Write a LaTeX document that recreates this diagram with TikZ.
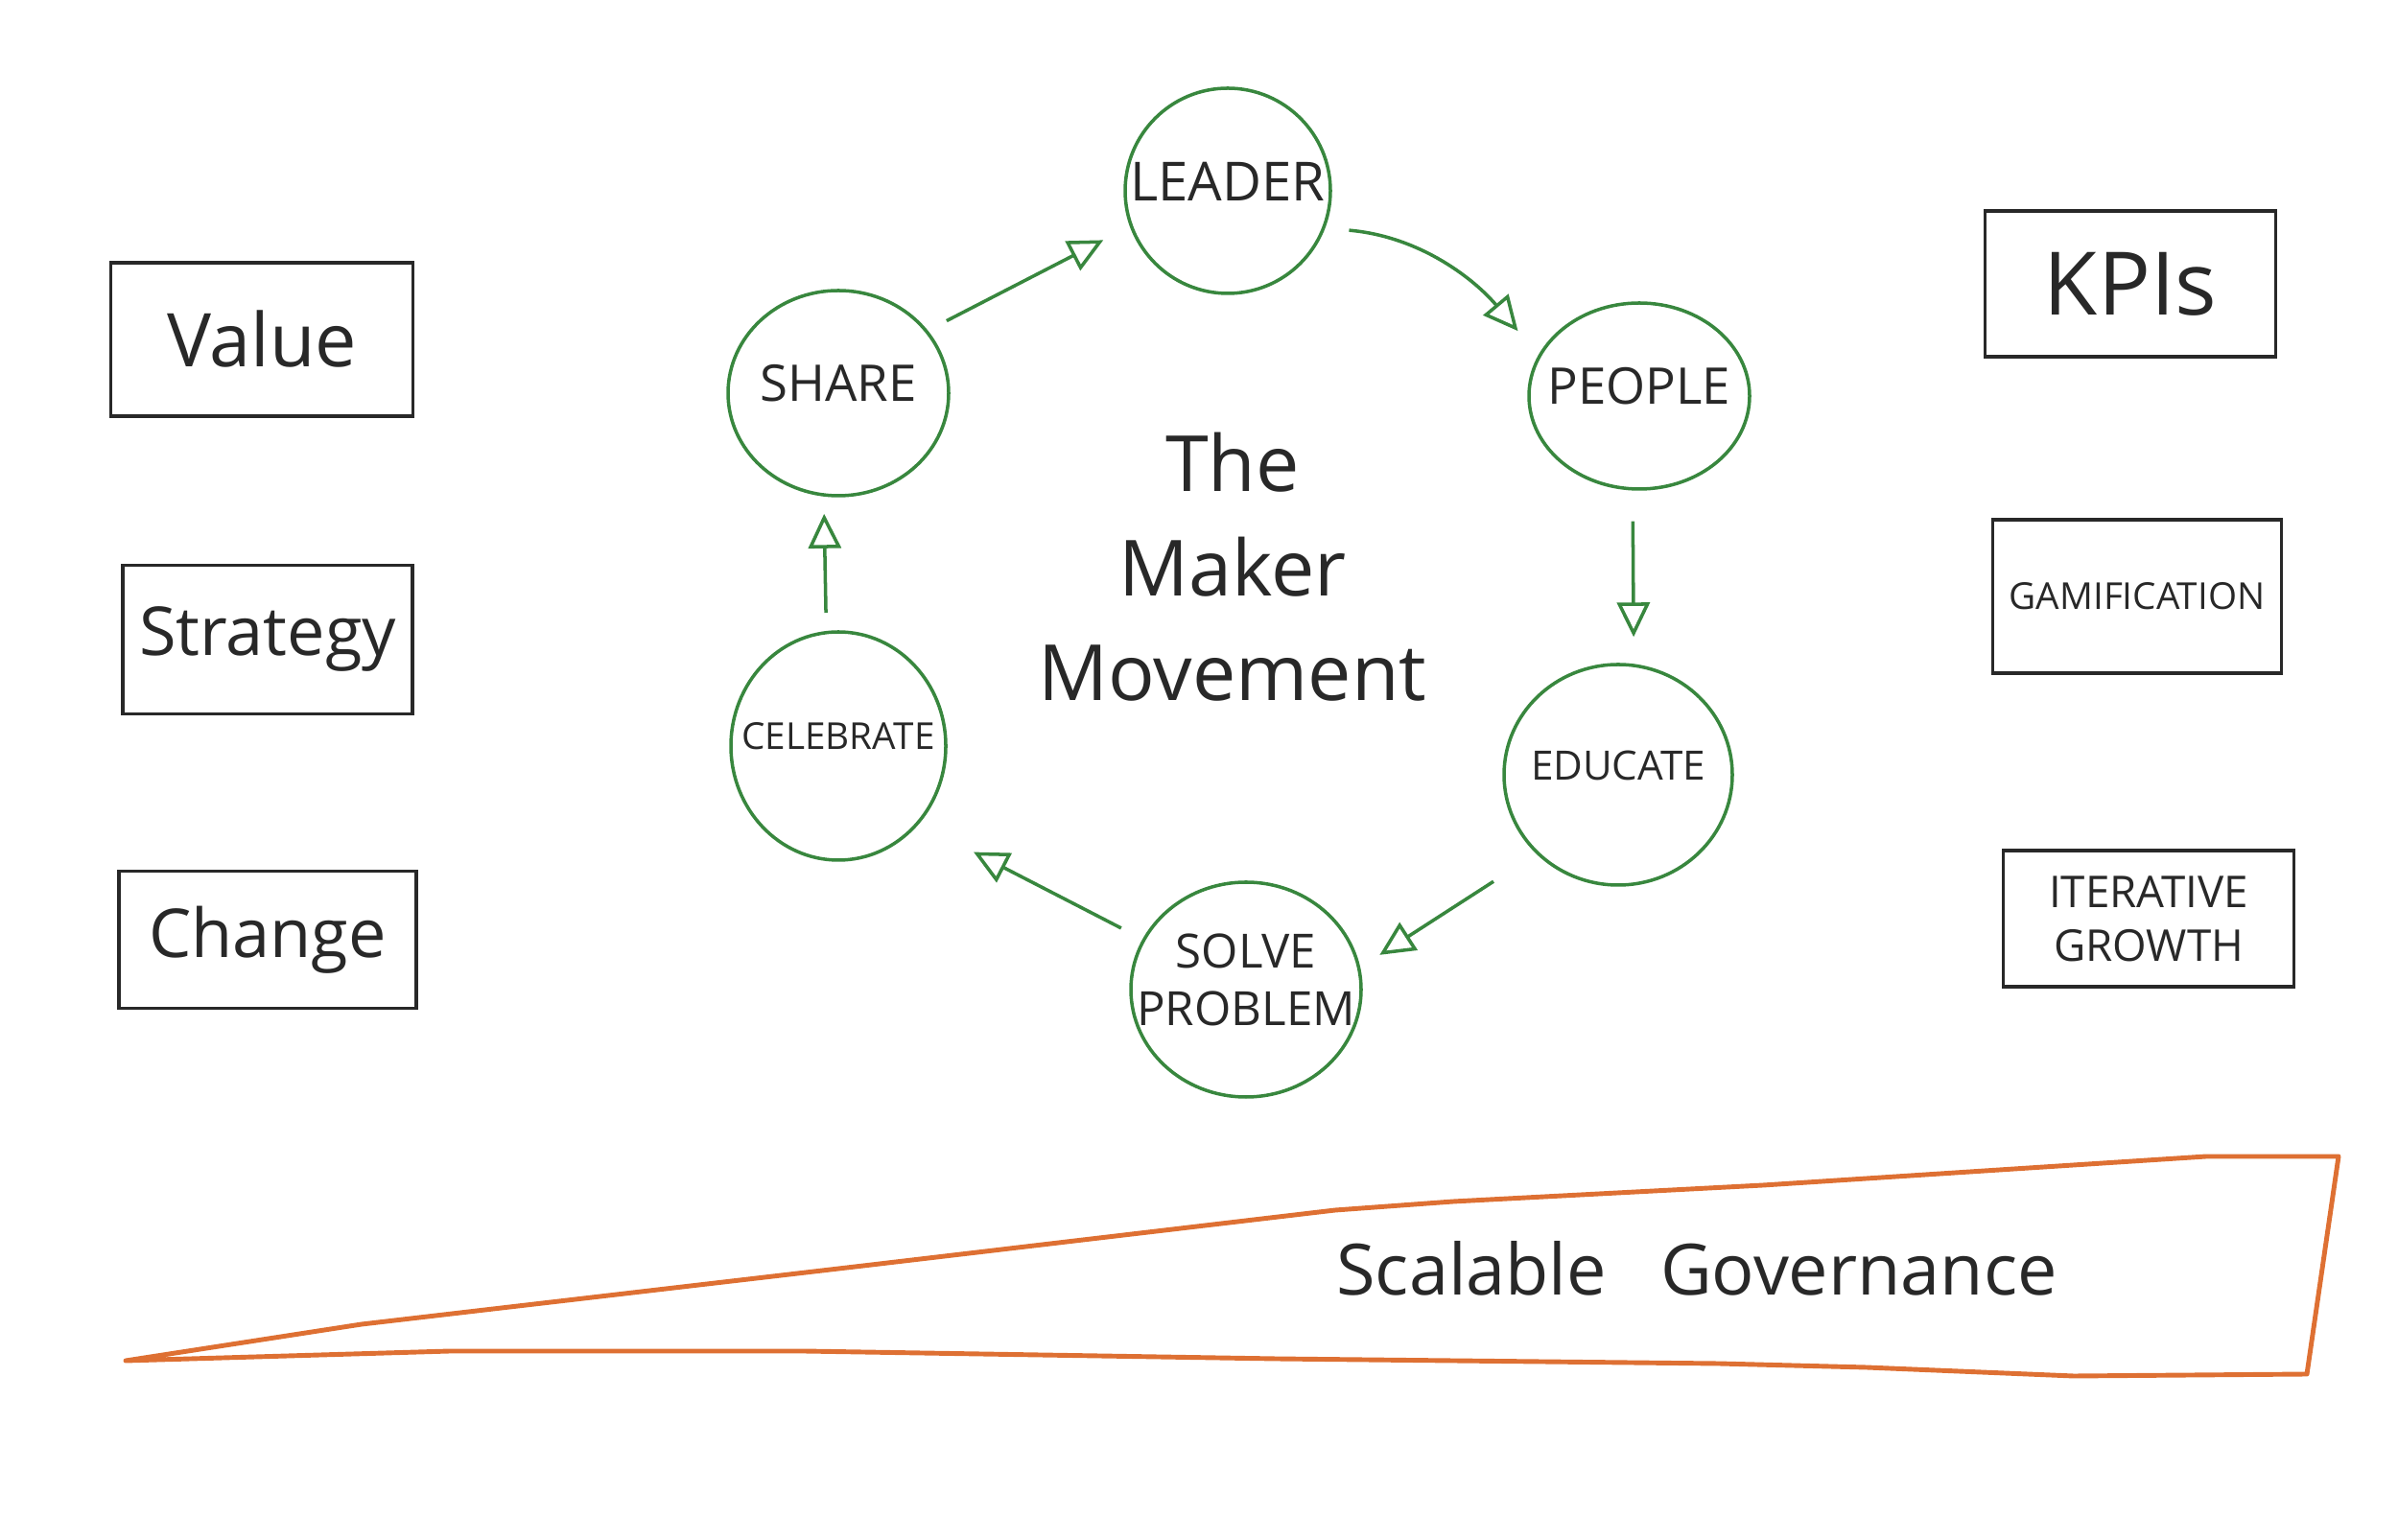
\documentclass[tikz,border=0pt]{standalone}
\usepackage{fontspec}
\setmainfont{Open Sans}
\usetikzlibrary{arrows.meta, shapes.geometric}
\definecolor{leafgreen}{RGB}{56,135,62}
\definecolor{rust}{RGB}{222,112,51}
\definecolor{ink}{RGB}{40,40,40}

\begin{document}
\begin{tikzpicture}[
  stage/.style={ellipse, draw=leafgreen, line width=1pt, inner sep=0pt},
  stagetext/.style={text=ink, align=center, inner sep=0pt, yshift=1mm},
  card/.style={draw=ink, line width=1.1pt, inner sep=0pt, text=ink, align=center},
  flow/.style={draw=leafgreen, line width=1pt, -{Triangle[open, length=3.6mm, width=3.4mm]}}
]
\useasboundingbox (0,0) rectangle (25,16.05);
\node[stage, minimum width=2.14cm, minimum height=2.14cm, label={[stagetext, font=\fontsize{16}{19}\selectfont]center:LEADER}] (leader) at (12.80,14.06) {};
\node[stage, minimum width=2.30cm, minimum height=1.94cm, label={[stagetext, font=\fontsize{15}{18}\selectfont]center:PEOPLE}] (people) at (17.09,11.92) {};
\node[stage, minimum width=2.38cm, minimum height=2.30cm, label={[stagetext, font=\fontsize{12}{14}\selectfont]center:EDUCATE}] (educate) at (16.87,7.97) {};
\node[stage, minimum width=2.40cm, minimum height=2.24cm, label={[stagetext, font=\fontsize{14}{17}\selectfont]center:SOLVE\\PROBLEM}] (solve) at (12.99,5.73) {};
\node[stage, minimum width=2.24cm, minimum height=2.38cm, label={[stagetext, font=\fontsize{11}{13}\selectfont]center:CELEBRATE}] (celebrate) at (8.74,8.27) {};
\node[stage, minimum width=2.30cm, minimum height=2.14cm, label={[stagetext, font=\fontsize{15}{18}\selectfont]center:SHARE}] (share) at (8.74,11.95) {};
\node[text=ink, align=center, font=\fontsize{23}{31}\selectfont] (title) at (12.85,10.14) {The\\Maker\\Movement};
\draw[flow, shorten <=0.22cm, shorten >=0.31cm] (share.35) -- (leader.200);
\draw[flow, shorten <=0.25cm, shorten >=0.33cm] (leader.-21) to[out=-5, in=130] (people.158);
\draw[flow, shorten <=0.32cm, shorten >=0.28cm] (people.266) -- (educate.82);
\draw[flow, shorten <=0.53cm, shorten >=0.24cm] (educate.224) -- (solve.11);
\draw[flow, shorten <=0.25cm, shorten >=0.64cm] (solve.154) -- (celebrate.-44);
\draw[flow, shorten <=0.19cm, shorten >=0.18cm] (celebrate.96) -- (share.262);
\node[card, minimum width=3.15cm, minimum height=1.60cm, font=\fontsize{22}{26}\selectfont] (value) at (2.73,12.51) {Value};
\node[card, minimum width=3.02cm, minimum height=1.55cm, font=\fontsize{20}{24}\selectfont] (strategy) at (2.79,9.38) {Strategy};
\node[card, minimum width=3.10cm, minimum height=1.43cm, font=\fontsize{20}{24}\selectfont] (change) at (2.79,6.25) {Change};
\node[card, minimum width=3.03cm, minimum height=1.52cm, font=\fontsize{26}{30}\selectfont] (kpis) at (22.21,13.09) {KPIs};
\node[card, minimum width=3.01cm, minimum height=1.60cm, font=\fontsize{11}{13}\selectfont] (gamification) at (22.28,9.83) {GAMIFICATION};
\node[card, minimum width=3.03cm, minimum height=1.42cm, font=\fontsize{13}{16}\selectfont] (growth) at (22.40,6.47) {ITERATIVE\\GROWTH};
\draw[rust, line width=1.4pt, line join=round] (1.31,1.86) -- (3.77,2.24) -- (9.00,2.85) -- (13.92,3.43) -- (15.15,3.52) -- (18.38,3.69) -- (23.00,3.99) -- (24.38,3.99) -- (24.05,1.72) -- (21.62,1.70) -- (19.46,1.79) -- (17.92,1.83) -- (13.31,1.88) -- (8.38,1.96) -- (4.69,1.96) -- cycle;
\node[text=ink, font=\fontsize{21}{25}\selectfont] (governance) at (17.69,2.82) {Scalable\hspace{0.5em} Governance};
\end{tikzpicture}
\end{document}
